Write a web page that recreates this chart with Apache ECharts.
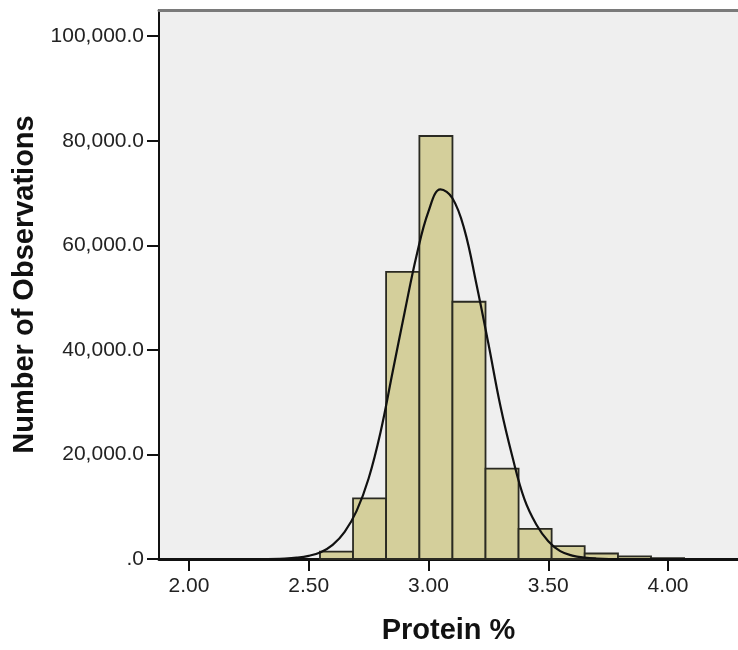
<!DOCTYPE html>
<html>
<head>
<meta charset="utf-8">
<script src="https://cdn.jsdelivr.net/npm/echarts@6/dist/echarts.min.js"></script>
<style>
html,body{margin:0;padding:0;background:#fff;}
#chart{width:738px;height:650px;}
</style>
</head>
<body>
<div id="chart"></div>
<script>
// Histogram bins (Protein %)
const binStart = [2.547, 2.685, 2.823, 2.962, 3.100, 3.238, 3.376, 3.514, 3.652, 3.791, 3.929];
const binEnd   = [2.685, 2.823, 2.962, 3.100, 3.238, 3.376, 3.514, 3.652, 3.791, 3.929, 4.067];
const counts   = [1400, 11600, 54900, 80900, 49200, 17300, 5750, 2450, 1050, 500, 150];

// Normal curve points
const curveX = [2.30, 2.40, 2.45, 2.50, 2.55, 2.60, 2.65, 2.70, 2.75, 2.80, 2.85, 2.90, 2.95, 3.00, 3.05, 3.10, 3.15, 3.20, 3.25, 3.30, 3.35, 3.40, 3.45, 3.50, 3.55, 3.60, 3.65, 3.70, 3.80, 4.29];
const curveY = [0, 100, 250, 600, 1300, 2700, 5200, 9200, 15400, 24300, 35700, 47100, 58000, 66500, 70700, 69000, 63000, 52600, 41200, 29300, 19600, 11500, 6600, 3400, 1500, 650, 260, 100, 0, 0];

// Tick labels
const xTicks = [2.00, 2.50, 3.00, 3.50, 4.00];
const yTicks = [0, 20000, 40000, 60000, 80000, 100000];

const X_MIN = 1.875, X_MAX = 4.292, Y_MAX = 105000;

const barData = binStart.map((s, i) => [s, binEnd[i], counts[i]]);
const lineData = curveX.map((x, i) => [x, curveY[i]]);

function fmtY(v) {
  if (v === 0) return '.0';
  return String(v).replace(/\B(?=(\d{3})+(?!\d))/g, ',') + '.0';
}

const tickFont = { fontFamily: 'Liberation Sans', fontSize: 21, color: '#222' };
const nameFont = { fontFamily: 'Liberation Sans', fontWeight: 'bold', fontSize: 29, color: '#111' };

const chart = echarts.init(document.getElementById('chart'), null, { renderer: 'canvas' });
chart.setOption({
  animation: false,
  backgroundColor: '#ffffff',
  grid: {
    left: 159, right: 0, top: 10, bottom: 91,
    show: true, backgroundColor: '#efefef', borderWidth: 0
  },
  xAxis: [{
    type: 'value', min: X_MIN, max: X_MAX, position: 'bottom',
    name: 'Protein %', nameLocation: 'middle', nameGap: 57,
    nameTextStyle: nameFont,
    axisLine: { show: true, onZero: false, lineStyle: { color: '#111', width: 3 } },
    axisTick: { show: true, customValues: xTicks, length: 12, lineStyle: { color: '#111', width: 2 } },
    axisLabel: Object.assign({ customValues: xTicks, margin: 17, formatter: v => v.toFixed(2) }, tickFont),
    splitLine: { show: false }
  }, {
    type: 'value', min: X_MIN, max: X_MAX, position: 'top',
    axisLine: { show: true, onZero: false, lineStyle: { color: '#7a7a7a', width: 3 } },
    axisTick: { show: false }, axisLabel: { show: false }, splitLine: { show: false }
  }],
  yAxis: {
    type: 'value', min: 0, max: Y_MAX,
    name: 'Number of Observations', nameLocation: 'middle', nameGap: 113,
    nameTextStyle: nameFont,
    axisLine: { show: true, onZero: false, lineStyle: { color: '#111', width: 2 } },
    axisTick: { show: true, customValues: yTicks, length: 12, lineStyle: { color: '#111', width: 2 } },
    axisLabel: Object.assign({ customValues: yTicks, margin: 15, formatter: fmtY }, tickFont),
    splitLine: { show: false }
  },
  series: [{
    type: 'custom',
    xAxisIndex: 0,
    data: barData,
    encode: { x: [0, 1], y: 2 },
    renderItem: function (params, api) {
      const p0 = api.coord([api.value(0), api.value(2)]);
      const p1 = api.coord([api.value(1), 0]);
      return {
        type: 'rect',
        shape: { x: p0[0], y: p0[1], width: p1[0] - p0[0], height: p1[1] - p0[1] },
        style: { fill: '#d4cf9b', stroke: '#2a2a22', lineWidth: 1.8 }
      };
    },
    z: 2
  }, {
    type: 'line',
    xAxisIndex: 0,
    data: lineData,
    smooth: 0.4,
    showSymbol: false,
    lineStyle: { color: '#111', width: 2.2 },
    z: 3
  }]
});
</script>
</body>
</html>
